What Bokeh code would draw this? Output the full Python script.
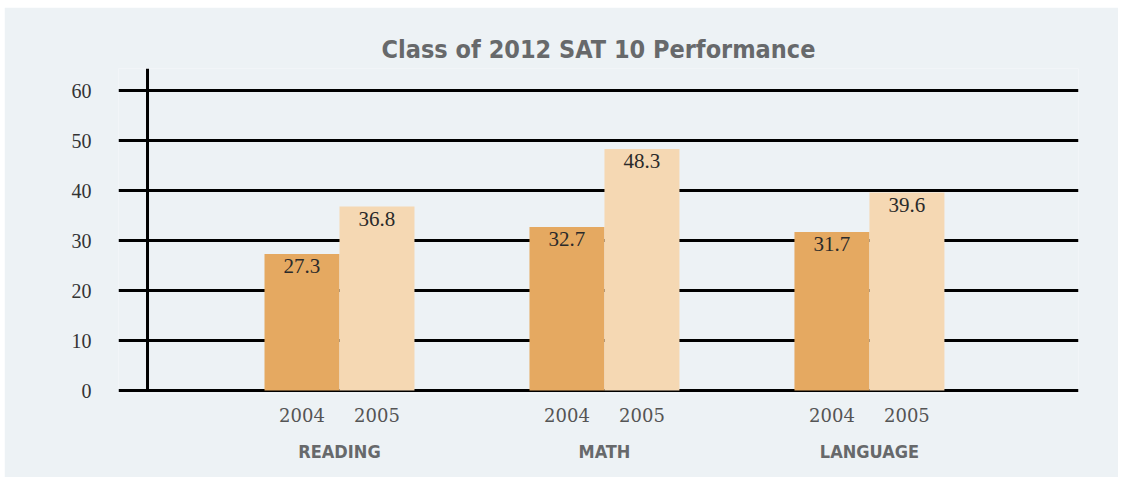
from bokeh.plotting import figure
from bokeh.models import ColumnDataSource, Range1d, LinearAxis, FixedTicker, Title
from bokeh.core.properties import value
from bokeh.embed import file_html
from bokeh.resources import INLINE

# ---- data ----
categories = ["READING", "MATH", "LANGUAGE"]
years = ["2004", "2005"]
scores_2004 = [27.3, 32.7, 31.7]
scores_2005 = [36.8, 48.3, 39.6]
y_ticks = [0, 10, 20, 30, 40, 50, 60]
title_text = "Class of 2012 SAT 10 Performance"

# ---- style ----
BG = "#EDF2F5"
C2004 = "#E5A961"
C2005 = "#F5D8B3"
COND = "'DejaVu Sans Condensed', sans-serif"
SERIF = "'Liberation Serif', serif"
SERIF2 = "'DejaVu Serif', serif"
BAR_W = 0.283
OFF = BAR_W / 2

centers = [i + 1 for i in range(len(categories))]
x04 = [c - OFF for c in centers]
x05 = [c + OFF for c in centers]

src04 = ColumnDataSource(dict(x=x04, top=scores_2004, lbl=[f"{v:.1f}" for v in scores_2004]))
src05 = ColumnDataSource(dict(x=x05, top=scores_2005, lbl=[f"{v:.1f}" for v in scores_2005]))

p = figure(width=1114, height=470, output_backend="svg", toolbar_location=None,
           x_range=Range1d(0.166, 3.789), y_range=Range1d(-0.6, 64.4),
           x_axis_location=None, y_axis_location="left",
           min_border_left=114, min_border_right=40, min_border_top=61, min_border_bottom=84)
p.styles = {"margin-left": "4px", "margin-top": "7px"}
p.background_fill_color = BG
p.border_fill_color = BG
p.outline_line_color = None

p.title = Title(text=title_text, align="center", offset=-40,
                text_font=COND, text_font_size="25px", text_font_style="bold",
                text_color="#67696B", standoff=10)

# grid
p.xgrid.grid_line_color = None
p.ygrid.ticker = FixedTicker(ticks=y_ticks)
p.ygrid.grid_line_color = "black"
p.ygrid.grid_line_width = 3

# y axis
ya = p.yaxis[0]
ya.ticker = FixedTicker(ticks=y_ticks)
ya.axis_line_color = None
ya.major_tick_line_color = None
ya.minor_tick_line_color = None
ya.major_label_standoff = 21
ya.major_label_text_font = SERIF
ya.major_label_text_font_size = "20px"
ya.major_label_text_color = "#333333"

# vertical axis line
p.segment(x0=[0.2755], y0=[y_ticks[0]], x1=[0.2755], y1=[64.4], line_color="black", line_width=3)

# bars
p.vbar(x="x", top="top", bottom=0, width=BAR_W, source=src04, fill_color=C2004, line_color=None)
p.vbar(x="x", top="top", bottom=0, width=BAR_W, source=src05, fill_color=C2005, line_color=None)

for s in (src04, src05):
    p.text(x="x", y="top", text="lbl", source=s, text_align="center", text_baseline="top",
           y_offset=5, text_font=value(SERIF), text_font_size="21px", text_color="#2A2A2A")

# x axes: years and categories
year_ticks = x04 + x05
year_over = {t: years[0] for t in x04}
year_over.update({t: years[1] for t in x05})
xa1 = LinearAxis(ticker=FixedTicker(ticks=year_ticks), major_label_overrides=year_over)
xa2 = LinearAxis(ticker=FixedTicker(ticks=centers),
                 major_label_overrides={c: n for c, n in zip(centers, categories)})
for ax in (xa1, xa2):
    ax.axis_line_color = None
    ax.major_tick_line_color = None
    ax.minor_tick_line_color = None
xa1.major_label_standoff = 8
xa1.major_label_text_font = SERIF2
xa1.major_label_text_font_size = "18px"
xa1.major_label_text_color = "#555555"
xa2.major_label_standoff = 10
xa2.major_label_text_font = COND
xa2.major_label_text_font_size = "18px"
xa2.major_label_text_font_style = "bold"
xa2.major_label_text_color = "#67696B"
p.add_layout(xa1, "below")
p.add_layout(xa2, "below")

open("out.html", "w").write(file_html(p, INLINE))
